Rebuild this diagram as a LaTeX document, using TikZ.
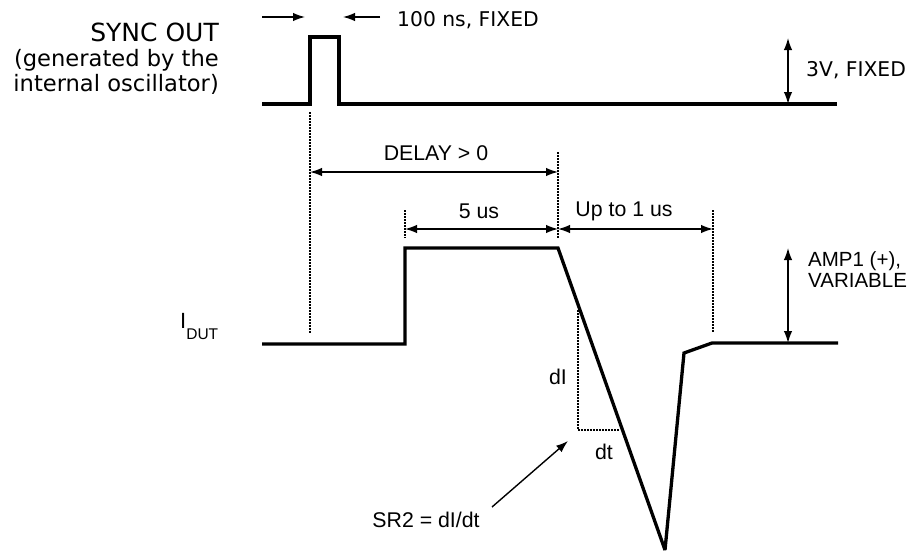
\documentclass[tikz,border=0pt]{standalone}
\usepackage{fontspec}
\setmainfont{Liberation Sans}
\newfontfamily\dvs{DejaVu Sans}
\usetikzlibrary{arrows.meta}
\tikzset{
  wave/.style={line width=3.3pt, line join=miter, miter limit=3},
  dim/.style={line width=1.4pt, {Latex[length=12pt,width=8.5pt]}-{Latex[length=12pt,width=8.5pt]}},
  onearrow/.style={line width=1.4pt, -{Latex[length=12pt,width=8.5pt]}},
  dots/.style={line width=1.3pt, dash pattern=on 1.5pt off 1.5pt},
  lbl/.style={inner sep=0pt, font=\fontsize{21.3}{22}\selectfont},
  dlbl/.style={inner sep=0pt, font=\dvs\fontsize{20.3}{22}\selectfont},
}
\begin{document}
\begin{tikzpicture}[x=1pt,y=-1pt]
\useasboundingbox (0,0) rectangle (915,554);
% SYNC OUT label
\node[inner sep=0pt, anchor=east, align=right, font=\dvs\fontsize{22.6}{25}\selectfont] (synclbl) at (219,59)
  {{\fontsize{25}{25}\selectfont SYNC OUT}\\(generated by the\\internal oscillator)};
% sync waveform
\coordinate (s0) at (262,104);
\coordinate (s1) at (310,104);
\coordinate (s2) at (310,37);
\coordinate (s3) at (339,37);
\coordinate (s4) at (339,104);
\coordinate (s5) at (837,104);
\draw[wave] (s0) -- (s1) -- (s2) -- (s3) -- (s4) -- (s5);
% 100 ns arrows
\coordinate (a1s) at (262,17);
\coordinate (a1e) at (305,17);
\coordinate (a2s) at (380,17);
\coordinate (a2e) at (343,17);
\draw[onearrow] (a1s) -- (a1e);
\draw[onearrow] (a2s) -- (a2e);
\node[dlbl, anchor=west] (t100) at (397,20) {100 ns, FIXED};
% 3V arrow
\coordinate (v3t) at (788,38);
\coordinate (v3b) at (788,104);
\draw[dim] (v3t) -- (v3b);
\node[dlbl, anchor=west] (t3v) at (806,70) {3V, FIXED};
% dotted guide lines
\coordinate (d1t) at (310,112);
\coordinate (d1b) at (310,333);
\draw[dots] (d1t) -- (d1b);
\coordinate (d2t) at (558,152);
\coordinate (d2b) at (558,238);
\draw[dots] (d2t) -- (d2b);
\coordinate (d3t) at (405,210);
\coordinate (d3b) at (405,238);
\draw[dots] (d3t) -- (d3b);
\coordinate (d4t) at (713,210);
\coordinate (d4b) at (713,333);
\draw[dots] (d4t) -- (d4b);
% DELAY
\coordinate (dl1) at (310,172);
\coordinate (dl2) at (558,172);
\draw[dim] (dl1) -- (dl2);
\node[lbl] (tdelay) at (436,153) {DELAY > 0};
% 5 us
\coordinate (f1) at (405,229);
\coordinate (f2) at (558,229);
\draw[dim] (f1) -- (f2);
\node[lbl] (t5us) at (479,211) {5 us};
% Up to 1 us
\coordinate (u1) at (558,229);
\coordinate (u2) at (713,229);
\draw[dim] (u1) -- (u2);
\node[lbl] (tup) at (624,211) {Up to 1 us};
% I_DUT label
\node[inner sep=0pt, anchor=base west, font=\fontsize{22}{22}\selectfont] (idut) at (180,328)
  {I\raisebox{-11pt}{\fontsize{15.5}{16}\selectfont DUT}};
% I_DUT waveform
\coordinate (i0) at (262,344);
\coordinate (i1) at (405,344);
\coordinate (i2) at (405,248);
\coordinate (i3) at (558,248);
\coordinate (i4) at (665,550);
\coordinate (i5) at (684,353);
\coordinate (i6) at (712,343);
\coordinate (i7) at (838,343);
\draw[wave] (i0) -- (i1) -- (i2) -- (i3) -- (i4) -- (i5) -- (i6) -- (i7);
% dI/dt triangle
\coordinate (tr1) at (578,310);
\coordinate (tr2) at (578,430);
\coordinate (tr3) at (619,430);
\draw[dots] (tr1) -- (tr2) -- (tr3);
\node[lbl] (tdi) at (558,377) {dI};
\node[lbl] (tdt) at (604,452) {dt};
% SR2
\node[lbl] (tsr) at (426,520) {SR2 = dI/dt};
\coordinate (sra) at (492,507);
\coordinate (srb) at (568,441);
\draw[onearrow] (sra) -- (srb);
% AMP1
\coordinate (am1) at (788,248);
\coordinate (am2) at (788,343);
\draw[dim] (am1) -- (am2);
\node[inner sep=0pt, anchor=base west, align=left, font=\fontsize{20.5}{20.5}\selectfont] (tamp) at (808,287)
  {AMP1 (+),\\VARIABLE};
\end{tikzpicture}
\end{document}
